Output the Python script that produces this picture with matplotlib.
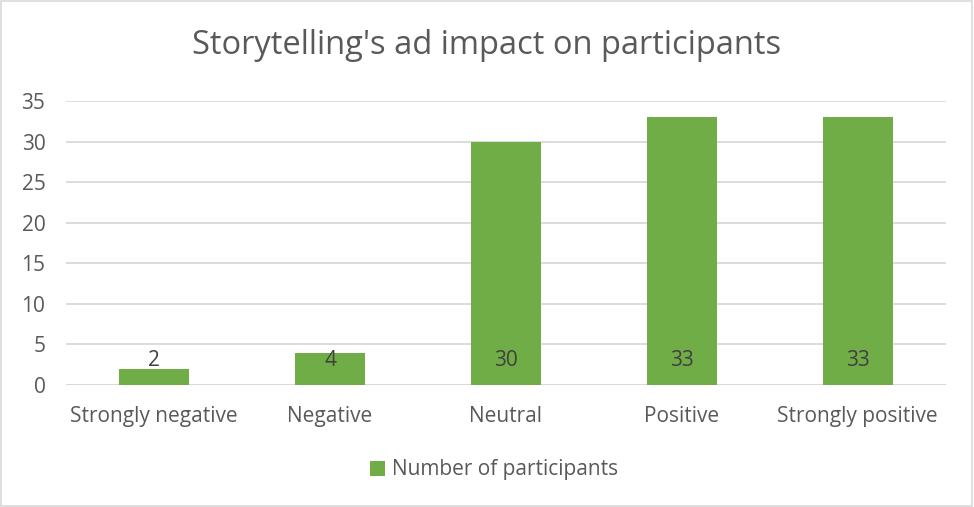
import matplotlib.pyplot as plt
from matplotlib.patches import Rectangle

categories = ["Strongly negative", "Negative", "Neutral", "Positive", "Strongly positive"]
participants = [2, 4, 30, 33, 33]
yticks = [0, 5, 10, 15, 20, 25, 30, 35]

green = "#70AD47"
text_color = "#595959"
grid_color = "#D9D9D9"

plt.rcParams["font.family"] = ["Open Sans", "DejaVu Sans"]

fig = plt.figure(figsize=(9.74, 5.07), dpi=100)
ax = fig.add_axes([0.068, 0.2406, 0.903, 0.56])

x = list(range(len(categories)))
bars = ax.bar(x, participants, width=0.4, color=green, zorder=3,
              label="Number of participants")

# value labels sit just above the base of each bar
for xi, v in zip(x, participants):
    ax.annotate(str(v), (xi, 0), xytext=(0, 25), textcoords="offset pixels",
                ha="center", va="center", fontsize=15, color="#404040", zorder=4)

ax.set_xlim(-0.5, len(categories) - 0.5)
ax.set_ylim(0, 35)
ax.set_yticks(yticks)
ax.set_xticks(x)
ax.set_xticklabels(categories)
ax.yaxis.grid(True, color=grid_color, linewidth=1.3, zorder=0)
ax.tick_params(axis="both", length=0, labelsize=15, colors=text_color)
ax.tick_params(axis="y", pad=15)
ax.tick_params(axis="x", pad=15)
for s in ax.spines.values():
    s.set_visible(False)
ax.axhline(0, color=grid_color, linewidth=1.3, zorder=1)

fig.text(0.5, 0.91, "Storytelling's ad impact on participants", ha="center",
         va="center", fontsize=23.5, color=text_color)

fig.legend(loc="center", bbox_to_anchor=(0.507, 0.073), frameon=False,
           fontsize=15, labelcolor=text_color, handlelength=0.75,
           handleheight=0.75, handletextpad=0.3)

fig.patches.append(Rectangle((0.001, 0.001), 0.997, 0.997, transform=fig.transFigure,
                             fill=False, edgecolor=grid_color, linewidth=1.2))

fig.savefig("out.png", dpi=100, facecolor="white")
